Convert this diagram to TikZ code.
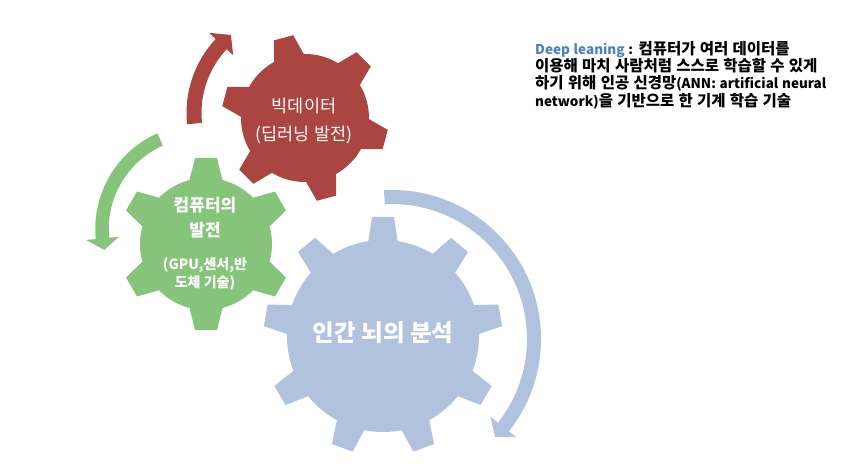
\documentclass[tikz,border=0pt]{standalone}
\usepackage{fontspec}
\setmainfont{Noto Sans CJK KR}
\newfontfamily\descfont{Noto Sans CJK KR}[WordSpace=1.2]
\usetikzlibrary{positioning}

\definecolor{gearred}{HTML}{AB4542}
\definecolor{geargreen}{HTML}{86C47B}
\definecolor{gearblue}{HTML}{B1C2DE}
\definecolor{deepblue}{HTML}{4F81BD}

\newcommand{\lat}[1]{{\fontsize{13.5}{17.3}\selectfont #1}}

\tikzset{
  geartext/.style={text=white, align=center, inner sep=0pt},
  desctext/.style={align=left, inner sep=0pt, font=\descfont\bfseries\fontsize{15.5}{17.3}\selectfont}
}

\begin{document}
\begin{tikzpicture}[x=1pt, y=1pt]
\useasboundingbox (0,0) rectangle (855,472);

% arrows
\fill[gearred, shift={(295,359)}] (186:108.5) arc[start angle=186, end angle=137, radius=108.5]
  -- (137:117.5) -- (129.4:101) -- (137:84.5) -- (137:93.5)
  arc[start angle=137, end angle=186, radius=93.5] -- cycle;
\fill[geargreen, shift={(200,243)}] (114:104.75) arc[start angle=114, end angle=185.5, radius=104.75]
  -- (185.5:114.5) -- (192.3:98) -- (185.5:81.5) -- (185.5:91.25)
  arc[start angle=185.5, end angle=114, radius=91.25] -- cycle;
\fill[gearblue, shift={(392,133)}] (93.1:149) arc[start angle=93.1, end angle=-38.3, radius=149]
  -- (-38.3:158.5) -- (-43.5:142) -- (-38.3:125.5) -- (-38.3:135)
  arc[start angle=-38.3, end angle=93.1, radius=135] -- cycle;

% big data gear
\fill[gearred] (305,354) circle[radius=64];
\foreach \a in {45,105,...,345}
  \fill[gearred, shift={(305,354)}, rotate=\a] (58,-16.5) -- (83,-10) -- (83,10) -- (58,16.5) -- cycle;
\node[geartext, font=\fontsize{17.5}{28}\selectfont] (bigdata) at (304,351) {빅데이터\\(딥러닝 발전)};

% computer gear
\fill[geargreen] (206,228) circle[radius=66];
\foreach \a in {30,90,...,330}
  \fill[geargreen, shift={(206,228)}, rotate=\a] (60,-17.5) -- (86,-11) -- (86,11) -- (60,17.5) -- cycle;
\node[geartext, font=\bfseries\fontsize{17}{25}\selectfont] (computer) at (205,254.5) {컴퓨터의\\발전};
\node[geartext, font=\bfseries\fontsize{14}{18}\selectfont] (hardware) at (205,198) {(GPU,센서,반\\도체 기술)};

% brain gear
\fill[gearblue] (383,136) circle[radius=96];
\foreach \a in {90,130,...,410}
  \fill[gearblue, shift={(383,136)}, rotate=\a] (90,-15.4) -- (119,-11) -- (119,11) -- (90,15.4) -- cycle;
\node[geartext, font=\bfseries\fontsize{23.5}{25}\selectfont] (brain) at (383,139) {인간 뇌의 분석};

\node[desctext, anchor=north west] (deepdesc) at (535,431) {\lat{\textcolor{deepblue}{Deep leaning} :} 컴퓨터가 여러 데이터를\\이용해 마치 사람처럼 스스로 학습할 수 있게\\하기 위해 인공 신경망\lat{(ANN: artificial neural}\\\lat{network)}을 기반으로 한 기계 학습 기술};
\end{tikzpicture}
\end{document}
